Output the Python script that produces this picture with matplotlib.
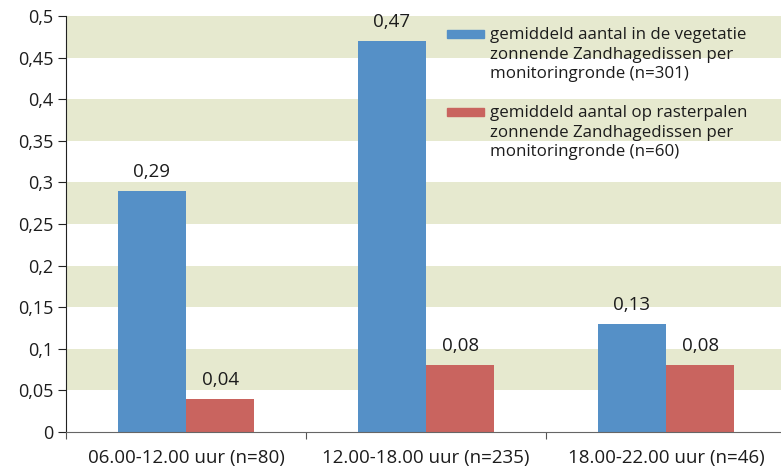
import matplotlib
matplotlib.use("Agg")
import matplotlib.pyplot as plt
from matplotlib.patches import Rectangle

# time windows and mean counts of basking sand lizards
categories = ["06.00-12.00 uur (n=80)", "12.00-18.00 uur (n=235)", "18.00-22.00 uur (n=46)"]
vegetatie = [0.29, 0.47, 0.13]
rasterpalen = [0.04, 0.08, 0.08]
series_labels = [
    "gemiddeld aantal in de vegetatie\nzonnende Zandhagedissen per\nmonitoringronde (n=301)",
    "gemiddeld aantal op rasterpalen\nzonnende Zandhagedissen per\nmonitoringronde (n=60)",
]
yticks = [0, 0.05, 0.1, 0.15, 0.2, 0.25, 0.3, 0.35, 0.4, 0.45, 0.5]

BLUE = "#5590c7"
RED = "#c9645f"
BAND = "#e6e9cf"
TXT = "#1c1c1c"

plt.rcParams['font.family'] = ['Open Sans', 'DejaVu Sans']


def fmt(v):
    s = f"{v:.2f}".rstrip("0").rstrip(".")
    return s.replace(".", ",")


fig = plt.figure(figsize=(7.81, 4.72), dpi=100)
ax = fig.add_axes([66 / 781, 40 / 472, 720 / 781, 416 / 472])

# alternating background bands
for lo in yticks[1::2]:
    ax.axhspan(lo, lo + 0.05, color=BAND, lw=0, zorder=0)

x = list(range(len(categories)))
w = 0.285
b1 = ax.bar([i - w / 2 for i in x], vegetatie, w, color=BLUE, zorder=2)
b2 = ax.bar([i + w / 2 for i in x], rasterpalen, w, color=RED, zorder=2)

for bars, vals in ((b1, vegetatie), (b2, rasterpalen)):
    for r, v in zip(bars, vals):
        ax.text(r.get_x() + r.get_width() / 2, v + 0.012, fmt(v),
                ha="center", va="bottom", fontsize=13.5, color=TXT)

ax.set_xlim(-0.5, 2.5)
ax.set_ylim(0, 0.5)
ax.set_yticks(yticks)
ax.set_yticklabels([fmt(t) for t in yticks], fontsize=13, color=TXT)
ax.set_xticks([-0.5, 0.5, 1.5, 2.5])
ax.set_xticklabels([])
ax.set_xticks(x, minor=True)
ax.set_xticklabels(categories, minor=True, fontsize=13.5, color=TXT)
ax.tick_params(axis="x", which="minor", length=0, pad=12)
ax.tick_params(axis="x", which="major", length=5, color="#555555")
ax.tick_params(axis="y", length=6, color="#222222", pad=3)

for s in ("top", "right"):
    ax.spines[s].set_visible(False)
ax.spines["left"].set_color("#222222")
ax.spines["bottom"].set_color("#666666")

# legend drawn by hand so each swatch sits beside the first line
for i, (lab, col) in enumerate(zip(series_labels, [BLUE, RED])):
    top = 30 + i * 78
    fig.patches.append(Rectangle((447 / 781, 1 - (top + 8) / 472), 37 / 781, 8 / 472,
                                 transform=fig.transFigure, color=col))
    fig.text(490 / 781, 1 - (top - 3) / 472, lab, ha="left", va="top",
             fontsize=12.2, color=TXT, linespacing=1.3)

fig.savefig("out.png", dpi=100)
